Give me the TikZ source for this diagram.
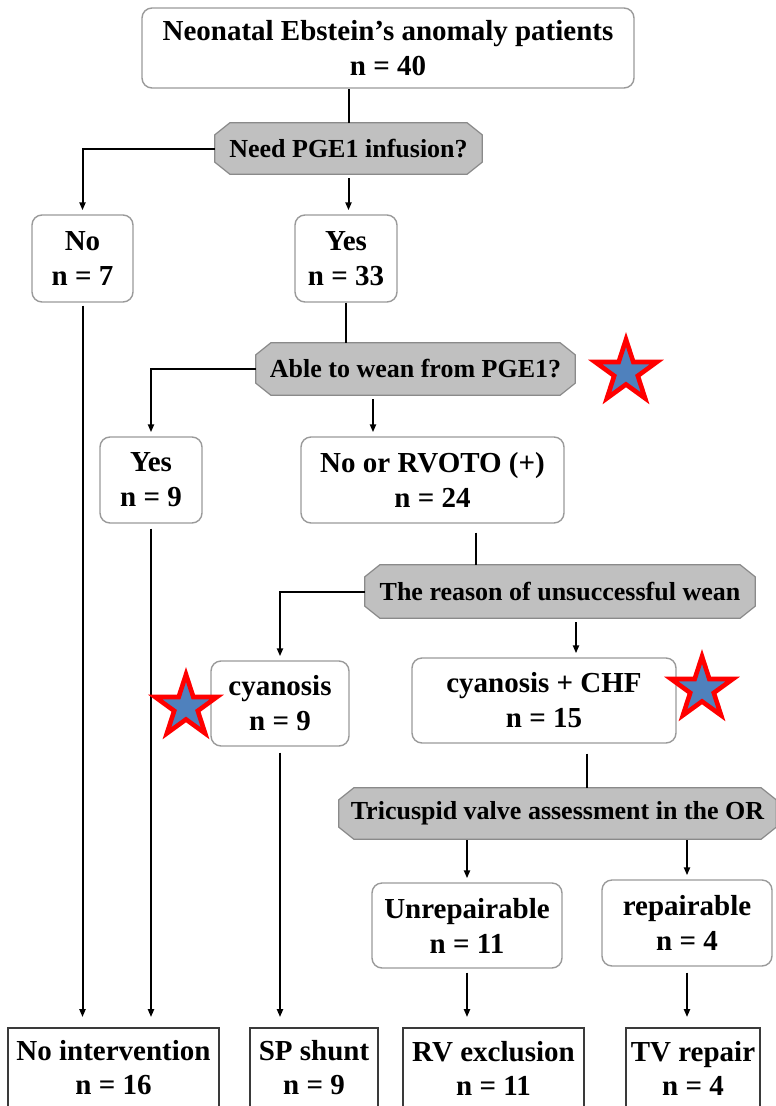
\documentclass[tikz,border=0pt]{standalone}
\usepackage{fontspec}
\setmainfont{Liberation Serif}
\usetikzlibrary{arrows.meta,shapes.geometric,backgrounds,calc}

\definecolor{decfill}{HTML}{C0C0C0}
\definecolor{decline}{HTML}{8A8A8A}
\definecolor{boxline}{HTML}{9A9A9A}
\definecolor{endline}{HTML}{3A3A3A}
\definecolor{starblue}{HTML}{4F81BD}

\tikzset{
  rbox/.style={draw=boxline, line width=1.4pt, rounded corners=10pt, fill=white,
    align=center, inner sep=0pt, font=\bfseries\fontsize{29}{35}\selectfont},
  endbox/.style={draw=endline, line width=1.8pt, fill=white,
    align=center, inner sep=0pt, font=\bfseries\fontsize{29}{34}\selectfont},
  declab/.style={align=center, inner sep=0pt, font=\bfseries\fontsize{26}{31}\selectfont},
  octa/.style={fill=decfill, draw=decline, line width=1.2pt},
  conn/.style={line width=2pt, draw=black},
  arr/.style={conn, -{Triangle[length=8pt,width=6pt]}, shorten >=4pt},
  mystar/.style={star, star points=5, star point ratio=2.618, minimum size=65pt,
    inner sep=0pt, fill=starblue, draw=red, line width=4.6pt},
}

\newcommand\octabg[1]{%
  \path[octa] ([xshift=15pt]#1.north west) -- ([xshift=-15pt]#1.north east)
    -- ([yshift=-12pt]#1.north east) -- ([yshift=12pt]#1.south east)
    -- ([xshift=-15pt]#1.south east) -- ([xshift=15pt]#1.south west)
    -- ([yshift=12pt]#1.south west) -- ([yshift=-12pt]#1.north west) -- cycle;}

\begin{document}
\begin{tikzpicture}[x=1pt,y=-1pt]
\useasboundingbox (0,0) rectangle (776,1106);

% boxes
\node[rbox, minimum width=492pt, minimum height=80pt] (top) at (388,48)
  {Neonatal Ebstein’s anomaly patients\\n = 40};
\node[declab, minimum width=267pt, minimum height=51pt] (d1) at (348.5,148.5)
  {Need PGE1 infusion?};
\node[rbox, minimum width=101pt, minimum height=87pt] (no1) at (82.5,258.5) {No\\n = 7};
\node[rbox, minimum width=102pt, minimum height=87pt] (yes1) at (346,258.5) {Yes\\n = 33};
\node[declab, minimum width=319pt, minimum height=52pt] (d2) at (415.5,369)
  {Able to wean from PGE1?};
\node[rbox, minimum width=102pt, minimum height=86pt] (yes2) at (151,480) {Yes\\n = 9};
\node[rbox, minimum width=263pt, minimum height=86pt] (norv) at (432.5,480)
  {No or RVOTO (+)\\n = 24};
\node[declab, minimum width=390pt, minimum height=53pt] (d3) at (560,591.5)
  {The reason of unsuccessful wean};
\node[rbox, minimum width=138pt, minimum height=85pt] (cyan) at (280,703.5)
  {cyanosis\\n = 9};
\node[rbox, minimum width=264pt, minimum height=85pt] (chf) at (544,700.5)
  {cyanosis + CHF\\n = 15};
\node[declab, minimum width=437pt, minimum height=51pt] (d4) at (557.5,813.5)
  {Tricuspid valve assessment in the OR};
\node[rbox, minimum width=190pt, minimum height=85pt] (unrep) at (467,925.5)
  {Unrepairable\\n = 11};
\node[rbox, minimum width=170pt, minimum height=86pt] (rep) at (687,923)
  {repairable\\n = 4};

\node[endbox, minimum width=211pt, minimum height=80pt] (noint) at (113.5,1068)
  {No intervention\\n = 16};
\node[endbox, minimum width=128pt, minimum height=80pt] (spsh) at (314,1068)
  {SP shunt\\n = 9};
\node[endbox, minimum width=181pt, minimum height=80pt] (rvex) at (493.5,1068)
  {RV exclusion\\n = 11};
\node[endbox, minimum width=134pt, minimum height=80pt] (tvrep) at (693,1068)
  {TV repair\\n = 4};

\begin{scope}[on background layer]
  \octabg{d1}
  \octabg{d2}
  \octabg{d3}
  \octabg{d4}
\end{scope}

% connectors
\draw[conn] (d1.north) -- (d1.north |- top.south);
\draw[arr] (d1.west) -| (no1.north);
\draw[arr, shorten <=4pt] (d1.south) -- (d1.south |- yes1.north);
\draw[conn] (yes1.south) -- (yes1.south |- d2.north);
\draw[arr] (d2.west) -| (yes2.north);
\draw[arr, shorten <=4pt] ([xshift=-42.5pt]d2.south) -- ([xshift=-42.5pt]d2.south |- norv.north);
\draw[conn, shorten <=9pt] ([xshift=43.5pt]norv.south) -- ([xshift=43.5pt]norv.south |- d3.north);
\draw[arr] (d3.west) -| (cyan.north);
\draw[arr, shorten <=4pt] ([xshift=16pt]d3.south) -- ([xshift=16pt]d3.south |- chf.north);
\draw[conn, shorten <=10pt] ([xshift=43pt]chf.south) -- ([xshift=43pt]chf.south |- d4.north);
\draw[arr, shorten <=1pt] (d4.south -| unrep.north) -- (unrep.north);
\draw[arr, shorten <=1pt] (d4.south -| rep.north) -- (rep.north);
\draw[arr, shorten <=4pt, shorten >=10pt] (unrep.south) -- (unrep.south |- rvex.north);
\draw[arr, shorten <=6pt, shorten >=10pt] (rep.south) -- (rep.south |- tvrep.north);
\draw[arr, shorten <=3pt, shorten >=10pt] (no1.south) -- (no1.south |- noint.north);
\draw[arr, shorten <=5pt, shorten >=10pt] (yes2.south) -- (yes2.south |- noint.north);
\draw[arr, shorten <=6pt, shorten >=10pt] (cyan.south) -- (cyan.south |- spsh.north);

% stars
\node[mystar] (s1) at (626,372) {};
\node[mystar] (s2) at (186,707) {};
\node[mystar] (s3) at (702,689) {};
\end{tikzpicture}
\end{document}
